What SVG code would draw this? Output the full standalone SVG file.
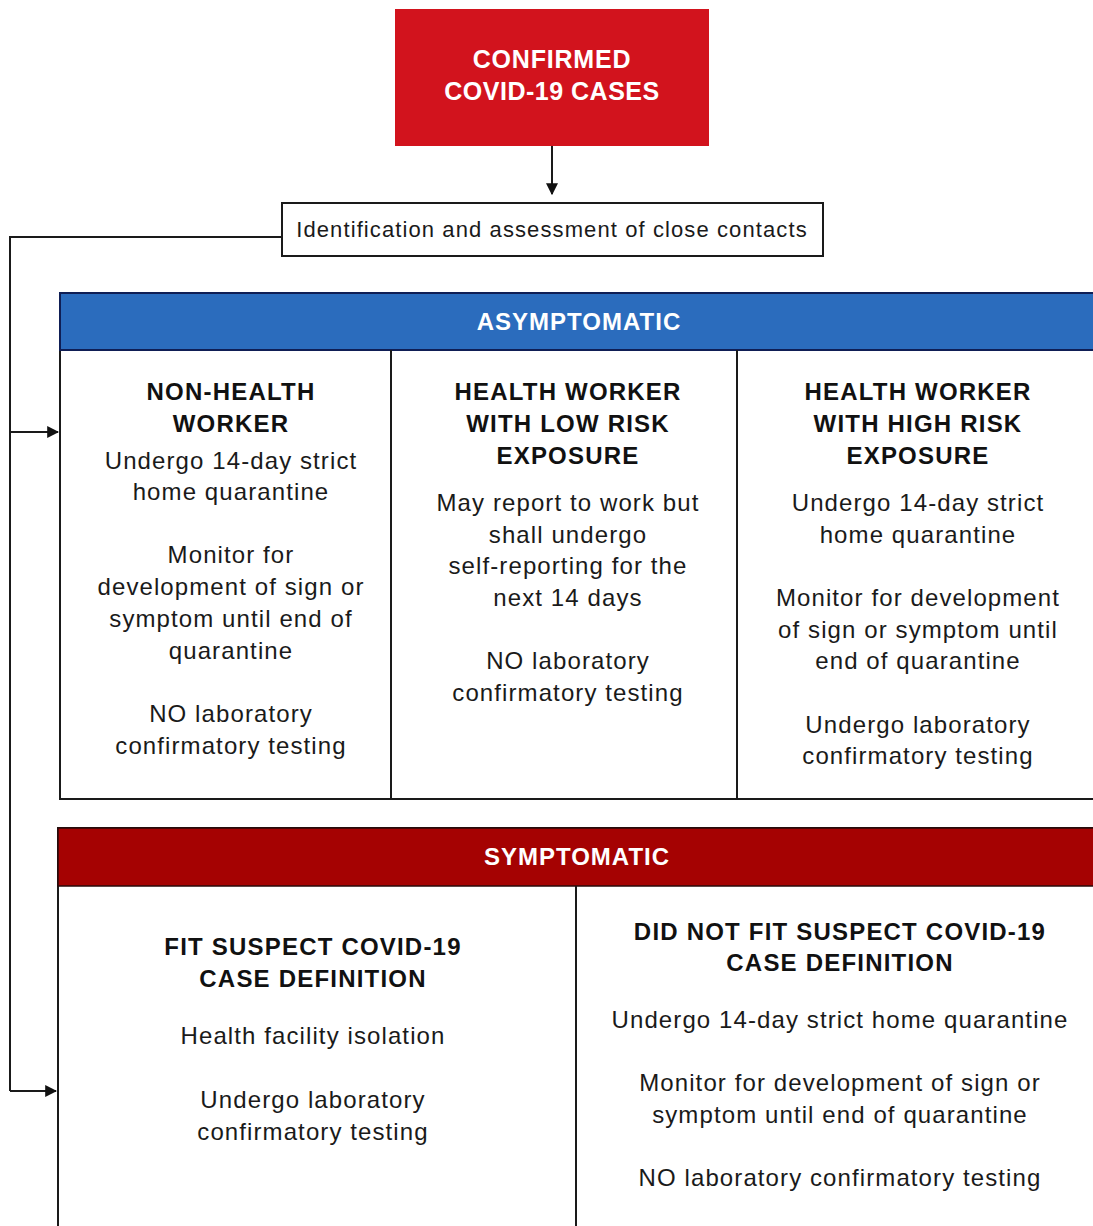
<svg xmlns="http://www.w3.org/2000/svg" width="1093" height="1226" viewBox="0 0 1093 1226">
<defs>
<marker id="ah" viewBox="0 0 10 10" refX="9" refY="5" markerWidth="12" markerHeight="12" markerUnits="userSpaceOnUse" orient="auto">
<path d="M0,0 L10,5 L0,10 Z" fill="#111"/>
</marker>
</defs>
<style>
.t{font-family:"Liberation Sans",Arial,sans-serif;font-size:24px;letter-spacing:1.1px;fill:#1a1a1a;text-anchor:middle}
.h{font-family:"Liberation Sans",Arial,sans-serif;font-size:24px;letter-spacing:1.2px;font-weight:bold;fill:#111;text-anchor:middle}
.w{font-family:"Liberation Sans",Arial,sans-serif;font-size:24px;letter-spacing:1px;font-weight:bold;fill:#fff;text-anchor:middle}
.ln{stroke:#1a1a1a;stroke-width:2;fill:none}
</style>
<rect width="1093" height="1226" fill="#fff"/>

<g id="confirmed">
<rect x="395" y="9" width="314" height="137" fill="#d2131d"/>
<text class="w" x="552" y="68" style="font-size:25px;letter-spacing:0.8px">CONFIRMED</text>
<text class="w" x="552" y="100" style="font-size:25px;letter-spacing:0.5px">COVID-19 CASES</text>
</g>

<g id="contacts">
<rect x="282" y="203" width="541" height="53" fill="#fff" stroke="#1a1a1a" stroke-width="2"/>
<text class="t" x="552" y="237" style="font-size:22px;letter-spacing:1.1px">Identification and assessment of close contacts</text>
</g>

<g id="asymptomatic">
<rect x="60" y="293" width="1040" height="506" fill="#fff" stroke="#1a1a1a" stroke-width="2"/>
<rect x="60" y="293" width="1040" height="57" fill="#2b6cbd" stroke="#0f1e55" stroke-width="2"/>
<text class="w" x="579" y="330">ASYMPTOMATIC</text>
<line class="ln" x1="391" y1="350" x2="391" y2="799"/>
<line class="ln" x1="737" y1="350" x2="737" y2="799"/>
</g>

<g id="non-health-worker">
<text class="h" x="231" y="400">NON-HEALTH</text>
<text class="h" x="231" y="432">WORKER</text>
<text class="t" x="231" y="469">Undergo 14-day strict</text>
<text class="t" x="231" y="500">home quarantine</text>
<text class="t" x="231" y="563">Monitor for</text>
<text class="t" x="231" y="595">development of sign or</text>
<text class="t" x="231" y="627">symptom until end of</text>
<text class="t" x="231" y="659">quarantine</text>
<text class="t" x="231" y="722">NO laboratory</text>
<text class="t" x="231" y="754">confirmatory testing</text>
</g>

<g id="hw-low-risk">
<text class="h" x="568" y="400">HEALTH WORKER</text>
<text class="h" x="568" y="432">WITH LOW RISK</text>
<text class="h" x="568" y="464">EXPOSURE</text>
<text class="t" x="568" y="511">May report to work but</text>
<text class="t" x="568" y="543">shall undergo</text>
<text class="t" x="568" y="574">self-reporting for the</text>
<text class="t" x="568" y="606">next 14 days</text>
<text class="t" x="568" y="669">NO laboratory</text>
<text class="t" x="568" y="701">confirmatory testing</text>
</g>

<g id="hw-high-risk">
<text class="h" x="918" y="400">HEALTH WORKER</text>
<text class="h" x="918" y="432">WITH HIGH RISK</text>
<text class="h" x="918" y="464">EXPOSURE</text>
<text class="t" x="918" y="511">Undergo 14-day strict</text>
<text class="t" x="918" y="543">home quarantine</text>
<text class="t" x="918" y="606">Monitor for development</text>
<text class="t" x="918" y="638">of sign or symptom until</text>
<text class="t" x="918" y="669">end of quarantine</text>
<text class="t" x="918" y="733">Undergo laboratory</text>
<text class="t" x="918" y="764">confirmatory testing</text>
</g>

<g id="symptomatic">
<rect x="58" y="828" width="1042" height="410" fill="#fff" stroke="#1a1a1a" stroke-width="2"/>
<rect x="58" y="828" width="1042" height="58" fill="#a50202" stroke="#2a0a0a" stroke-width="1.5"/>
<text class="w" x="577" y="865">SYMPTOMATIC</text>
<line class="ln" x1="576" y1="886" x2="576" y2="1226"/>
</g>

<g id="fit-suspect">
<text class="h" x="313" y="955">FIT SUSPECT COVID-19</text>
<text class="h" x="313" y="987">CASE DEFINITION</text>
<text class="t" x="313" y="1044">Health facility isolation</text>
<text class="t" x="313" y="1108">Undergo laboratory</text>
<text class="t" x="313" y="1140">confirmatory testing</text>
</g>

<g id="not-fit-suspect">
<text class="h" x="840" y="940">DID NOT FIT SUSPECT COVID-19</text>
<text class="h" x="840" y="971">CASE DEFINITION</text>
<text class="t" x="840" y="1028">Undergo 14-day strict home quarantine</text>
<text class="t" x="840" y="1091">Monitor for development of sign or</text>
<text class="t" x="840" y="1123">symptom until end of quarantine</text>
<text class="t" x="840" y="1186">NO laboratory confirmatory testing</text>
</g>

<g id="connectors">
<line class="ln" x1="552" y1="146" x2="552" y2="194" marker-end="url(#ah)"/>
<polyline class="ln" points="282,237 10,237 10,1091"/>
<line class="ln" x1="10" y1="432" x2="58" y2="432" marker-end="url(#ah)"/>
<line class="ln" x1="10" y1="1091" x2="56" y2="1091" marker-end="url(#ah)"/>
</g>
</svg>
